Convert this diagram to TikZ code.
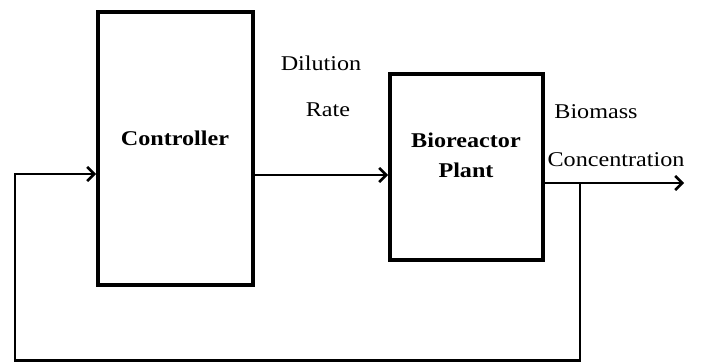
\documentclass[tikz,border=0pt]{standalone}
\usepackage{fontspec}
\usepackage{graphicx}
\setmainfont{Liberation Serif}
\usetikzlibrary{arrows.meta}
\newcommand{\wide}[1]{\scalebox{1.15}[1]{#1}}
\begin{document}
\begin{tikzpicture}[x=1pt,y=1pt,
  blockbox/.style={draw, line width=4pt, minimum width=#1, inner sep=0pt},
  conn/.style={line width=2.6pt},
  arr/.style={conn, -{Straight Barb[length=7pt,width=14pt,line width=2.6pt]}},
  lbl/.style={font=\fontsize{21}{24}\selectfont, inner sep=0pt},
  blbl/.style={font=\fontsize{21}{24}\selectfont\bfseries, inner sep=0pt}]
\useasboundingbox (0,0) rectangle (701,362);
\node[blockbox=155pt, minimum height=273pt] (ctrl) at (175.5,213.5) {};
\node[blockbox=153pt, minimum height=186pt] (bio) at (466.5,195) {};
\node[blbl] (ctrltxt) at (175,224) {\wide{Controller}};
\node[blbl] (biotxt) at (466,222) {\wide{Bioreactor}};
\node[blbl] (planttxt) at (466,192) {\wide{Plant}};
\node[lbl] (dil) at (321,299) {\wide{Dilution}};
\node[lbl] (rate) at (328,252) {\wide{Rate}};
\node[lbl] (bm) at (596,250) {\wide{Biomass}};
\node[lbl] (conc) at (616,202) {\wide{Concentration}};
\coordinate (fbin) at (15,188);
\coordinate (fbbl) at (15,1.3);
\coordinate (fbbr) at (580,1.3);
\coordinate (tap) at (580,179);
\coordinate (out) at (684,179);
\draw[arr] (ctrl.east |- 0,187) -- (bio.west |- 0,187);
\draw[arr] (bio.east |- out) -- (out);
\draw[arr] (tap) -- (fbbr) -- (fbbl) -- (fbin) -- (ctrl.west |- fbin);
\end{tikzpicture}
\end{document}
